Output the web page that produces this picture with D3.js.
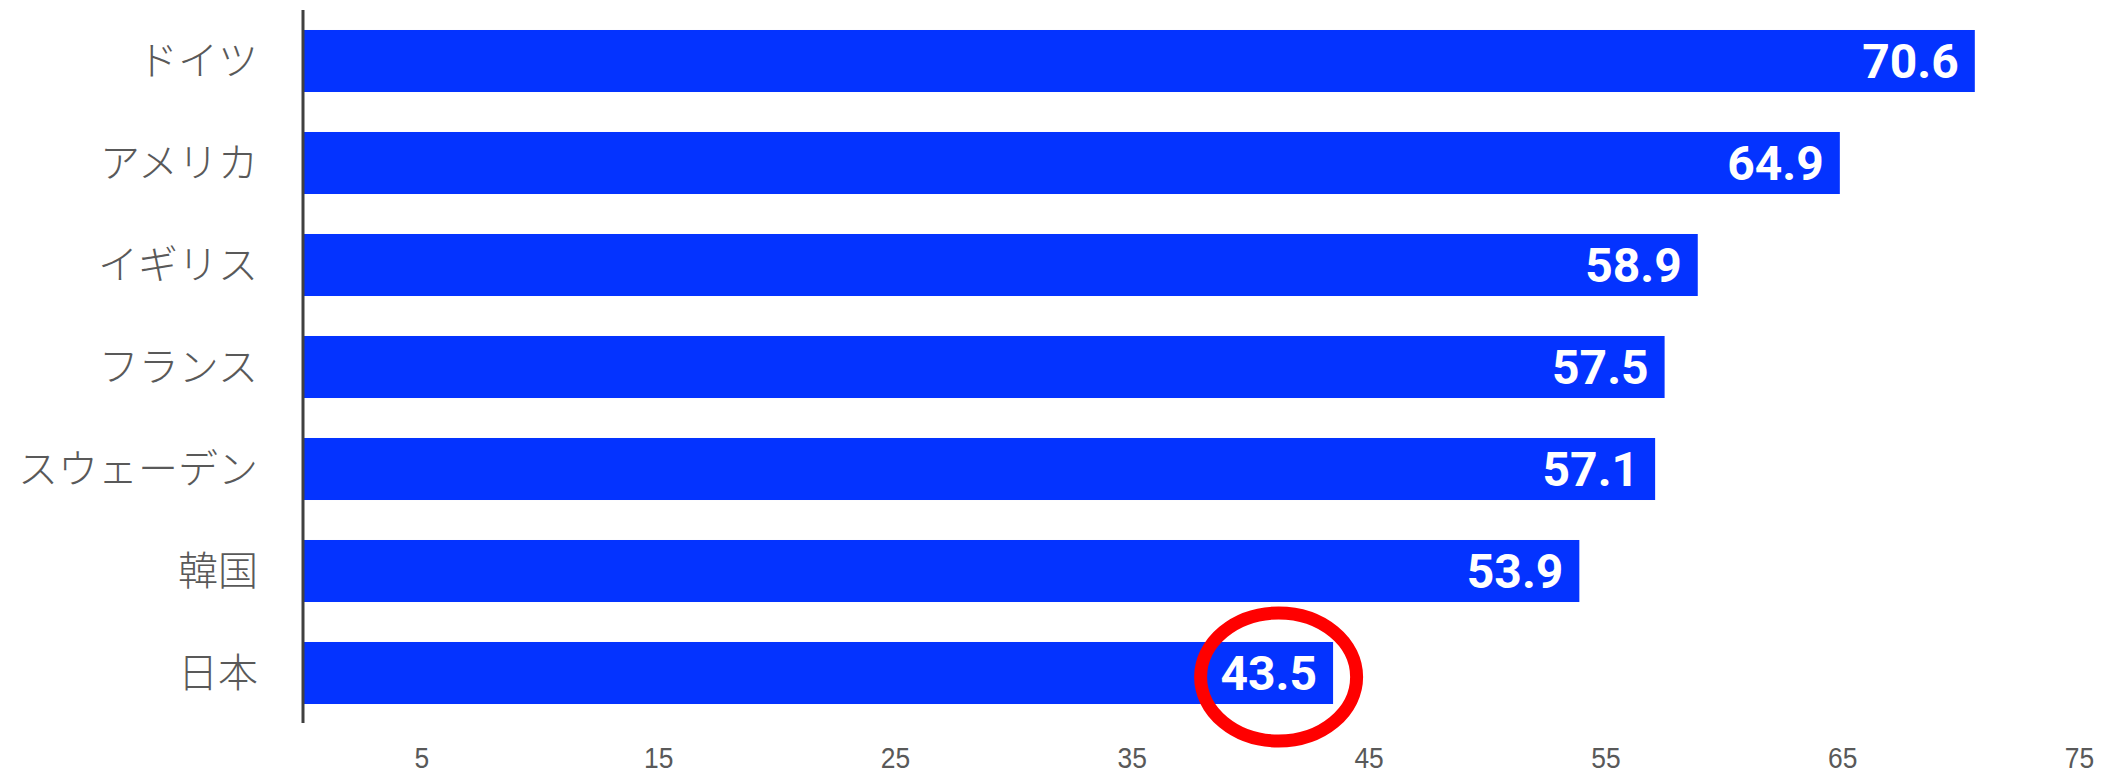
<!DOCTYPE html>
<html lang="ja">
<head>
<meta charset="utf-8">
<script src="https://cdn.jsdelivr.net/npm/d3@7"></script>
<style>
  html, body { margin: 0; padding: 0; background: #ffffff; }
  svg { display: block; }
</style>
</head>
<body>
<svg id="chart" width="2111" height="773"></svg>
<script>
// ---- data ----
const categories = ["ドイツ", "アメリカ", "イギリス", "フランス", "スウェーデン", "韓国", "日本"];
const values = [70.6, 64.9, 58.9, 57.5, 57.1, 53.9, 43.5];
const tickValues = [5, 15, 25, 35, 45, 55, 65, 75];
const highlightCategory = "日本";
const highlightCenterValue = 41.2;

// ---- layout ----
const svg = d3.select("#chart");

const x = d3.scaleLinear().domain([0, 75]).range([303, 2079]);
const y = d3.scaleBand().domain(categories).range([10, 724])
  .paddingInner(0.392).paddingOuter(0.196);

const data = categories.map((c, i) => ({ cat: c, val: values[i] }));

// bars
svg.append("g").selectAll("rect").data(data).join("rect")
  .attr("x", x(0))
  .attr("y", d => y(d.cat))
  .attr("width", d => x(d.val) - x(0))
  .attr("height", y.bandwidth())
  .attr("fill", "#0433ff");

// value labels
svg.append("g").selectAll("text").data(data).join("text")
  .attr("x", d => x(d.val) - 16)
  .attr("y", d => y(d.cat) + y.bandwidth() / 2)
  .attr("dy", "0.36em")
  .attr("text-anchor", "end")
  .attr("fill", "#ffffff")
  .attr("font-family", "Roboto, 'Liberation Sans', sans-serif")
  .attr("font-weight", 700)
  .attr("font-size", 48)
  .text(d => d.val.toFixed(1));

// category axis (left)
const yAxis = d3.axisLeft(y).tickSize(0).tickPadding(0);
const gy = svg.append("g").attr("transform", `translate(${x(0)},0)`).call(yAxis);
gy.select(".domain").attr("stroke", "#404040").attr("stroke-width", 3)
  .attr("d", `M0,${y.range()[0]}V${y.range()[1] - 1}`);
gy.selectAll(".tick text")
  .attr("x", -45)
  .attr("dy", "0.35em")
  .attr("fill", "#595959")
  .attr("font-family", "'Noto Sans CJK JP', sans-serif")
  .attr("font-weight", 300)
  .attr("font-size", 40)
  .attr("text-anchor", "end");

// value axis (bottom) – labels only
const xAxis = d3.axisBottom(x).tickValues(tickValues).tickSize(0).tickPadding(0);
const gx = svg.append("g").call(xAxis);
gx.select(".domain").remove();
gx.selectAll(".tick text")
  .attr("y", 0)
  .attr("dy", 0)
  .attr("transform", "translate(0,768) scale(0.88,1)")
  .attr("fill", "#595959")
  .attr("font-family", "'Liberation Sans', sans-serif")
  .attr("font-size", 30)
  .attr("text-anchor", "middle");

// highlight ellipse
svg.append("ellipse")
  .attr("cx", x(highlightCenterValue))
  .attr("cy", y(highlightCategory) + y.bandwidth() / 2 + 4)
  .attr("rx", 78)
  .attr("ry", 64)
  .attr("fill", "none")
  .attr("stroke", "#ff0000")
  .attr("stroke-width", 13);
</script>
</body>
</html>
